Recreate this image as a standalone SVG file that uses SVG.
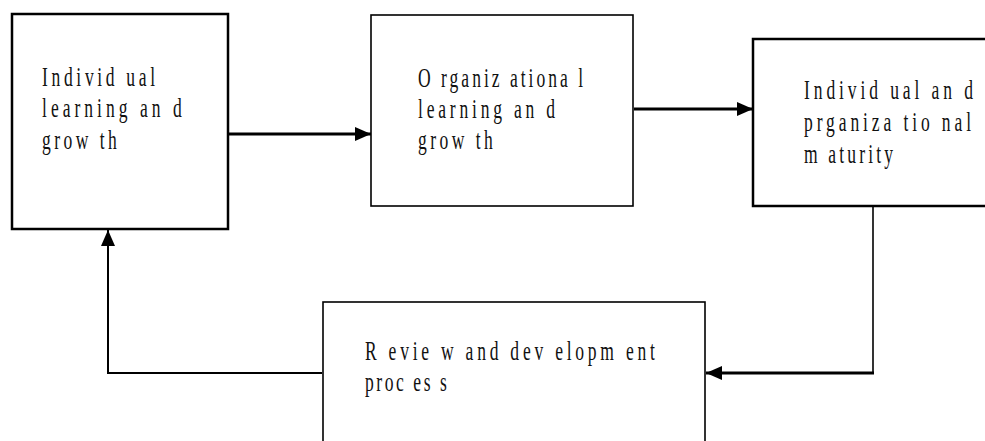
<svg xmlns="http://www.w3.org/2000/svg" width="985" height="441" viewBox="0 0 985 441">
<style>
.box{fill:#fff;stroke:#000}
.t{font-family:"Liberation Serif","Times New Roman",serif;font-size:27px;fill:#111}
.c{fill:none;stroke:#000}
</style>
<defs>
<marker id="ah" viewBox="0 0 16 14" refX="16" refY="7" markerWidth="16" markerHeight="14" markerUnits="userSpaceOnUse" orient="auto">
<path d="M0,0 L16,7 L0,14 z" fill="#000"/>
</marker>
</defs>
<rect width="985" height="441" fill="#fff"/>
<g id="node-individual">
<rect class="box" x="12" y="14" width="216" height="215" stroke-width="2.5"/>
<text class="t" transform="translate(42,86) scale(0.65,1)" textLength="174" lengthAdjust="spacing">Individ ual</text>
<text class="t" transform="translate(42,117) scale(0.65,1)" textLength="215" lengthAdjust="spacing">learning an d</text>
<text class="t" transform="translate(42,149) scale(0.65,1)" textLength="115" lengthAdjust="spacing">grow th</text>
</g>
<g id="node-organizational">
<rect class="box" x="371" y="15" width="262" height="191" stroke-width="1.6"/>
<text class="t" transform="translate(418,87) scale(0.65,1)" textLength="254" lengthAdjust="spacing">O rganiz ationa l</text>
<text class="t" transform="translate(418,118) scale(0.65,1)" textLength="211" lengthAdjust="spacing">learning an d</text>
<text class="t" transform="translate(418,149) scale(0.65,1)" textLength="115" lengthAdjust="spacing">grow th</text>
</g>
<g id="node-maturity">
<rect class="box" x="753" y="39" width="240" height="167" stroke-width="2.5"/>
<text class="t" transform="translate(804,99) scale(0.65,1)" textLength="260" lengthAdjust="spacing">Individ ual an d</text>
<text class="t" transform="translate(804,131) scale(0.65,1)" textLength="257" lengthAdjust="spacing">prganiza tio nal</text>
<text class="t" transform="translate(804,163) scale(0.65,1)" textLength="137" lengthAdjust="spacing">m aturity</text>
</g>
<g id="node-review">
<rect class="box" x="323" y="302" width="382" height="150" stroke-width="1.6"/>
<text class="t" transform="translate(365,360) scale(0.65,1)" textLength="446" lengthAdjust="spacing">R evie w and dev elopm ent</text>
<text class="t" transform="translate(365,391) scale(0.65,1)" textLength="126" lengthAdjust="spacing">proc es s</text>
</g>
<g id="connectors">
<line class="c" x1="229" y1="134" x2="371" y2="134" stroke-width="3" marker-end="url(#ah)"/>
<line class="c" x1="634" y1="109" x2="753" y2="109" stroke-width="3" marker-end="url(#ah)"/>
<polyline class="c" points="873,207 873,373" stroke-width="1.6"/>
<line class="c" x1="874" y1="373" x2="706" y2="373" stroke-width="3" marker-end="url(#ah)"/>
<polyline class="c" points="322,373 108,373 108,230" stroke-width="2" marker-end="url(#ah)"/>
</g>
</svg>
